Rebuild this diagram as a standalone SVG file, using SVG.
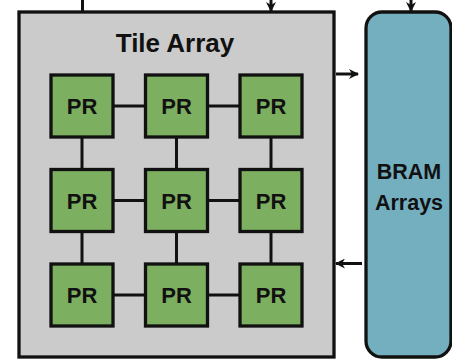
<svg xmlns="http://www.w3.org/2000/svg" width="452" height="359" viewBox="0 0 452 359">
  <style>
    .frame { fill: #cbcbcb; stroke: #111; stroke-width: 3.3; }
    .pr { fill: #7daf60; stroke: #111; stroke-width: 3.3; }
    .bram { fill: #74afc0; stroke: #111; stroke-width: 3.3; }
    .lbl { font-family: "Liberation Sans", Arial, Helvetica, sans-serif; font-weight: bold; fill: #111; text-anchor: middle; }
    .wire { stroke: #111; stroke-width: 3; fill: none; }
  </style>
  <defs>
    <marker id="arrow" viewBox="0 0 10 10" refX="9" refY="5" markerWidth="10" markerHeight="10" markerUnits="userSpaceOnUse" orient="auto">
      <path d="M0,0 L10,5 L0,10 L3,5 Z" fill="#111"/>
    </marker>
    <marker id="dot" viewBox="0 0 6 6" refX="3" refY="3" markerWidth="5" markerHeight="5" markerUnits="userSpaceOnUse" orient="auto">
      <circle cx="3" cy="3" r="3" fill="#111"/>
    </marker>
  </defs>

  <!-- tile array frame -->
  <g id="tile-array">
    <rect class="frame" x="19" y="12" width="315" height="345"/>
    <text class="lbl" x="175" y="52" font-size="26">Tile Array</text>
  </g>

  <!-- BRAM column -->
  <g id="bram-arrays">
    <rect class="bram" x="366" y="12" width="85" height="345" rx="16" ry="16"/>
    <text class="lbl" x="409" y="179" font-size="21.5">BRAM</text>
    <text class="lbl" x="409" y="210" font-size="21.5">Arrays</text>
  </g>

  <!-- connectors -->
  <g id="connectors">
    <!-- external lines entering from above -->
    <line class="wire" x1="82.5" y1="0" x2="82.5" y2="12"/>
    <line class="wire" x1="271" y1="0" x2="271" y2="11" marker-end="url(#arrow)"/>
    <line class="wire" x1="411" y1="0" x2="411" y2="11" marker-end="url(#arrow)"/>
    <!-- tile array <-> BRAM -->
    <line class="wire" x1="336" y1="74" x2="358" y2="74" marker-end="url(#arrow)"/>
    <line class="wire" x1="362" y1="263.5" x2="336" y2="263.5" marker-end="url(#arrow)"/>
    <!-- horizontal links -->
    <line class="wire" x1="112" y1="106" x2="146" y2="106" marker-start="url(#dot)"/>
    <line class="wire" x1="206.5" y1="106" x2="240" y2="106" marker-start="url(#dot)"/>
    <line class="wire" x1="112" y1="200.5" x2="146" y2="200.5" marker-start="url(#dot)"/>
    <line class="wire" x1="206.5" y1="200.5" x2="240" y2="200.5" marker-start="url(#dot)"/>
    <line class="wire" x1="112" y1="295" x2="146" y2="295" marker-start="url(#dot)"/>
    <line class="wire" x1="206.5" y1="295" x2="240" y2="295" marker-start="url(#dot)"/>
    <!-- vertical links -->
    <line class="wire" x1="82" y1="137" x2="82" y2="169.5"/>
    <line class="wire" x1="176.5" y1="137" x2="176.5" y2="169.5"/>
    <line class="wire" x1="271" y1="137" x2="271" y2="169.5"/>
    <line class="wire" x1="82" y1="231.5" x2="82" y2="264"/>
    <line class="wire" x1="176.5" y1="231.5" x2="176.5" y2="264"/>
    <line class="wire" x1="271" y1="231.5" x2="271" y2="264"/>
  </g>

  <!-- processing regions -->
  <g id="pr-1-1"><rect class="pr" x="51" y="75" width="62" height="62"/><text class="lbl" x="82" y="114" font-size="22">PR</text></g>
  <g id="pr-1-2"><rect class="pr" x="145.5" y="75" width="62" height="62"/><text class="lbl" x="176.5" y="114" font-size="22">PR</text></g>
  <g id="pr-1-3"><rect class="pr" x="240" y="75" width="62" height="62"/><text class="lbl" x="271" y="114" font-size="22">PR</text></g>
  <g id="pr-2-1"><rect class="pr" x="51" y="169.5" width="62" height="62"/><text class="lbl" x="82" y="208.5" font-size="22">PR</text></g>
  <g id="pr-2-2"><rect class="pr" x="145.5" y="169.5" width="62" height="62"/><text class="lbl" x="176.5" y="208.5" font-size="22">PR</text></g>
  <g id="pr-2-3"><rect class="pr" x="240" y="169.5" width="62" height="62"/><text class="lbl" x="271" y="208.5" font-size="22">PR</text></g>
  <g id="pr-3-1"><rect class="pr" x="51" y="264" width="62" height="62"/><text class="lbl" x="82" y="303" font-size="22">PR</text></g>
  <g id="pr-3-2"><rect class="pr" x="145.5" y="264" width="62" height="62"/><text class="lbl" x="176.5" y="303" font-size="22">PR</text></g>
  <g id="pr-3-3"><rect class="pr" x="240" y="264" width="62" height="62"/><text class="lbl" x="271" y="303" font-size="22">PR</text></g>
</svg>
